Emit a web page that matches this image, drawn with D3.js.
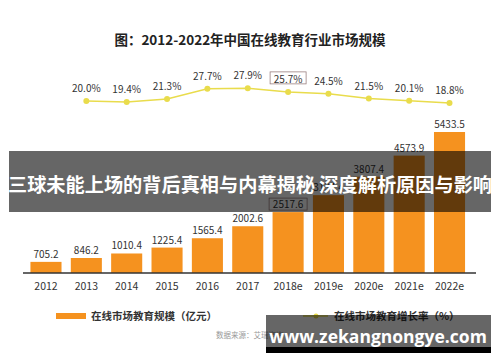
<!DOCTYPE html>
<html>
<head>
<meta charset="utf-8">
<script src="https://cdn.jsdelivr.net/npm/d3@7"></script>
<style>
  body { margin: 0; background: #fff; }
  svg { display: block; font-family: "Noto Sans CJK SC", "Noto Sans", sans-serif; }
</style>
</head>
<body>
<script>
// chart data
const years = ["2012", "2013", "2014", "2015", "2016", "2017", "2018e", "2019e", "2020e", "2021e", "2022e"]
const marketSize = [705.2, 846.2, 1010.4, 1225.4, 1565.4, 2002.6, 2517.6, 3134.4, 3807.4, 4573.9, 5433.5]
const growthYears = ["2013", "2014", "2015", "2016", "2017", "2018e", "2019e", "2020e", "2021e", "2022e"]
const growthRate = [20.0, 19.4, 21.3, 27.7, 27.9, 25.7, 24.5, 21.5, 20.1, 18.8]
const boxedYear = "2018e"

const width = 500
const height = 362
const orange = "#f5921f"
const yellow = "#e9dc4c"

const svg = d3.select("body").append("svg")
    .attr("width", width)
    .attr("height", height)

svg.append("rect").attr("width", width).attr("height", height).attr("fill", "#fff")

// title
svg.append("text")
    .attr("x", 250).attr("y", 45)
    .attr("text-anchor", "middle")
    .attr("font-size", 13.5)
    .attr("font-weight", "bold")
    .attr("fill", "#222")
    .text("图：2012-2022年中国在线教育行业市场规模")

const x = d3.scaleBand()
    .domain(years)
    .range([25.8, 469.7])
    .paddingInner(0.23)
    .paddingOuter(0.115)

const y = d3.scaleLinear()
    .domain([300, 5433.5])
    .range([273, 132])

const y2 = d3.scaleLinear()
    .domain([15, 30])
    .range([109, 85])

// bars
svg.append("g")
    .selectAll("rect")
    .data(marketSize)
    .join("rect")
    .attr("x", (d, i) => x(years[i]))
    .attr("y", d => y(d))
    .attr("width", x.bandwidth())
    .attr("height", d => y(300) - y(d))
    .attr("fill", orange)

const barLabels = svg.append("g")
    .attr("font-size", 10)
    .attr("fill", "#333")
    .attr("text-anchor", "middle")
    .selectAll("text")
    .data(marketSize)
    .join("text")
    .attr("x", (d, i) => x(years[i]) + x.bandwidth() / 2)
    .attr("y", d => y(d) - 4)
    .text(d => d.toFixed(1))

// axis
const xAxis = svg.append("g")
    .attr("transform", "translate(0,273)")
    .call(d3.axisBottom(x).tickSize(0).tickPadding(10))
xAxis.select(".domain").remove()
xAxis.selectAll("text")
    .attr("font-size", 10.5)
    .attr("fill", "#333")
    .attr("font-family", "\"Noto Sans CJK SC\", sans-serif")

svg.append("line")
    .attr("x1", 23).attr("x2", 476)
    .attr("y1", 273).attr("y2", 273)
    .attr("stroke", "#333")
    .attr("stroke-width", 1.4)

// growth line
const cx = d => x(d) + x.bandwidth() / 2
const line = d3.line()
    .x((d, i) => cx(growthYears[i]))
    .y(d => y2(d))

svg.append("path")
    .datum(growthRate)
    .attr("d", line)
    .attr("fill", "none")
    .attr("stroke", yellow)
    .attr("stroke-width", 1.5)

svg.append("g")
    .selectAll("circle")
    .data(growthRate)
    .join("circle")
    .attr("cx", (d, i) => cx(growthYears[i]))
    .attr("cy", d => y2(d))
    .attr("r", 3)
    .attr("fill", yellow)

svg.append("g")
    .attr("font-size", 10)
    .attr("fill", "#333")
    .attr("text-anchor", "middle")
    .selectAll("text")
    .data(growthRate)
    .join("text")
    .attr("x", (d, i) => cx(growthYears[i]))
    .attr("y", d => y2(d) - 9)
    .text(d => d.toFixed(1) + "%")

// highlight boxes
const bi = years.indexOf(boxedYear)
const gi = growthYears.indexOf(boxedYear)
svg.append("rect")
    .attr("x", cx(boxedYear) - 19).attr("y", y(marketSize[bi]) - 14)
    .attr("width", 38).attr("height", 12)
    .attr("fill", "none").attr("stroke", "#9a8080").attr("stroke-width", 0.8)
svg.append("rect")
    .attr("x", cx(boxedYear) - 18).attr("y", y2(growthRate[gi]) - 20)
    .attr("width", 36).attr("height", 12)
    .attr("fill", "none").attr("stroke", "#9a8080").attr("stroke-width", 0.8)

// legend
svg.append("rect")
    .attr("x", 56).attr("y", 313).attr("width", 30).attr("height", 6)
    .attr("fill", orange)
svg.append("text")
    .attr("x", 91).attr("y", 320)
    .attr("font-size", 10.5).attr("font-weight", "bold").attr("fill", "#333")
    .text("在线市场教育规模（亿元）")
svg.append("line")
    .attr("x1", 303).attr("x2", 328).attr("y1", 316).attr("y2", 316)
    .attr("stroke", yellow).attr("stroke-width", 1.5)
svg.append("circle")
    .attr("cx", 316).attr("cy", 316).attr("r", 2.5).attr("fill", yellow)
svg.append("text")
    .attr("x", 334).attr("y", 320)
    .attr("font-size", 10.5).attr("font-weight", "bold").attr("fill", "#333")
    .text("在线市场教育增长率（%）")

svg.append("text")
    .attr("x", 216).attr("y", 338)
    .attr("font-size", 7.5).attr("fill", "#999")
    .text("数据来源：艾瑞咨询")

// overlay banners
svg.append("rect")
    .attr("x", 9).attr("y", 151).attr("width", 482).attr("height", 61)
    .attr("fill", "rgba(0,0,0,0.6)")
svg.append("text")
    .attr("x", 250).attr("y", 192)
    .attr("text-anchor", "middle")
    .attr("font-size", 19.2).attr("font-weight", "bold").attr("fill", "#fff")
    .text("三球未能上场的背后真相与内幕揭秘 深度解析原因与影响")

svg.append("rect")
    .attr("x", 266).attr("y", 315).attr("width", 225).attr("height", 38)
    .attr("fill", "rgba(0,0,0,0.6)")
svg.append("rect")
    .attr("x", 266).attr("y", 347).attr("width", 225).attr("height", 6)
    .attr("fill", "#000")
svg.append("text")
    .attr("x", 378).attr("y", 343)
    .attr("text-anchor", "middle")
    .attr("font-size", 17.5).attr("font-weight", "bold").attr("fill", "#fff")
    .attr("font-family", "\"Open Sans\", \"Noto Sans\", sans-serif")
    .text("www.zekangnongye.com")
</script>
</body>
</html>
